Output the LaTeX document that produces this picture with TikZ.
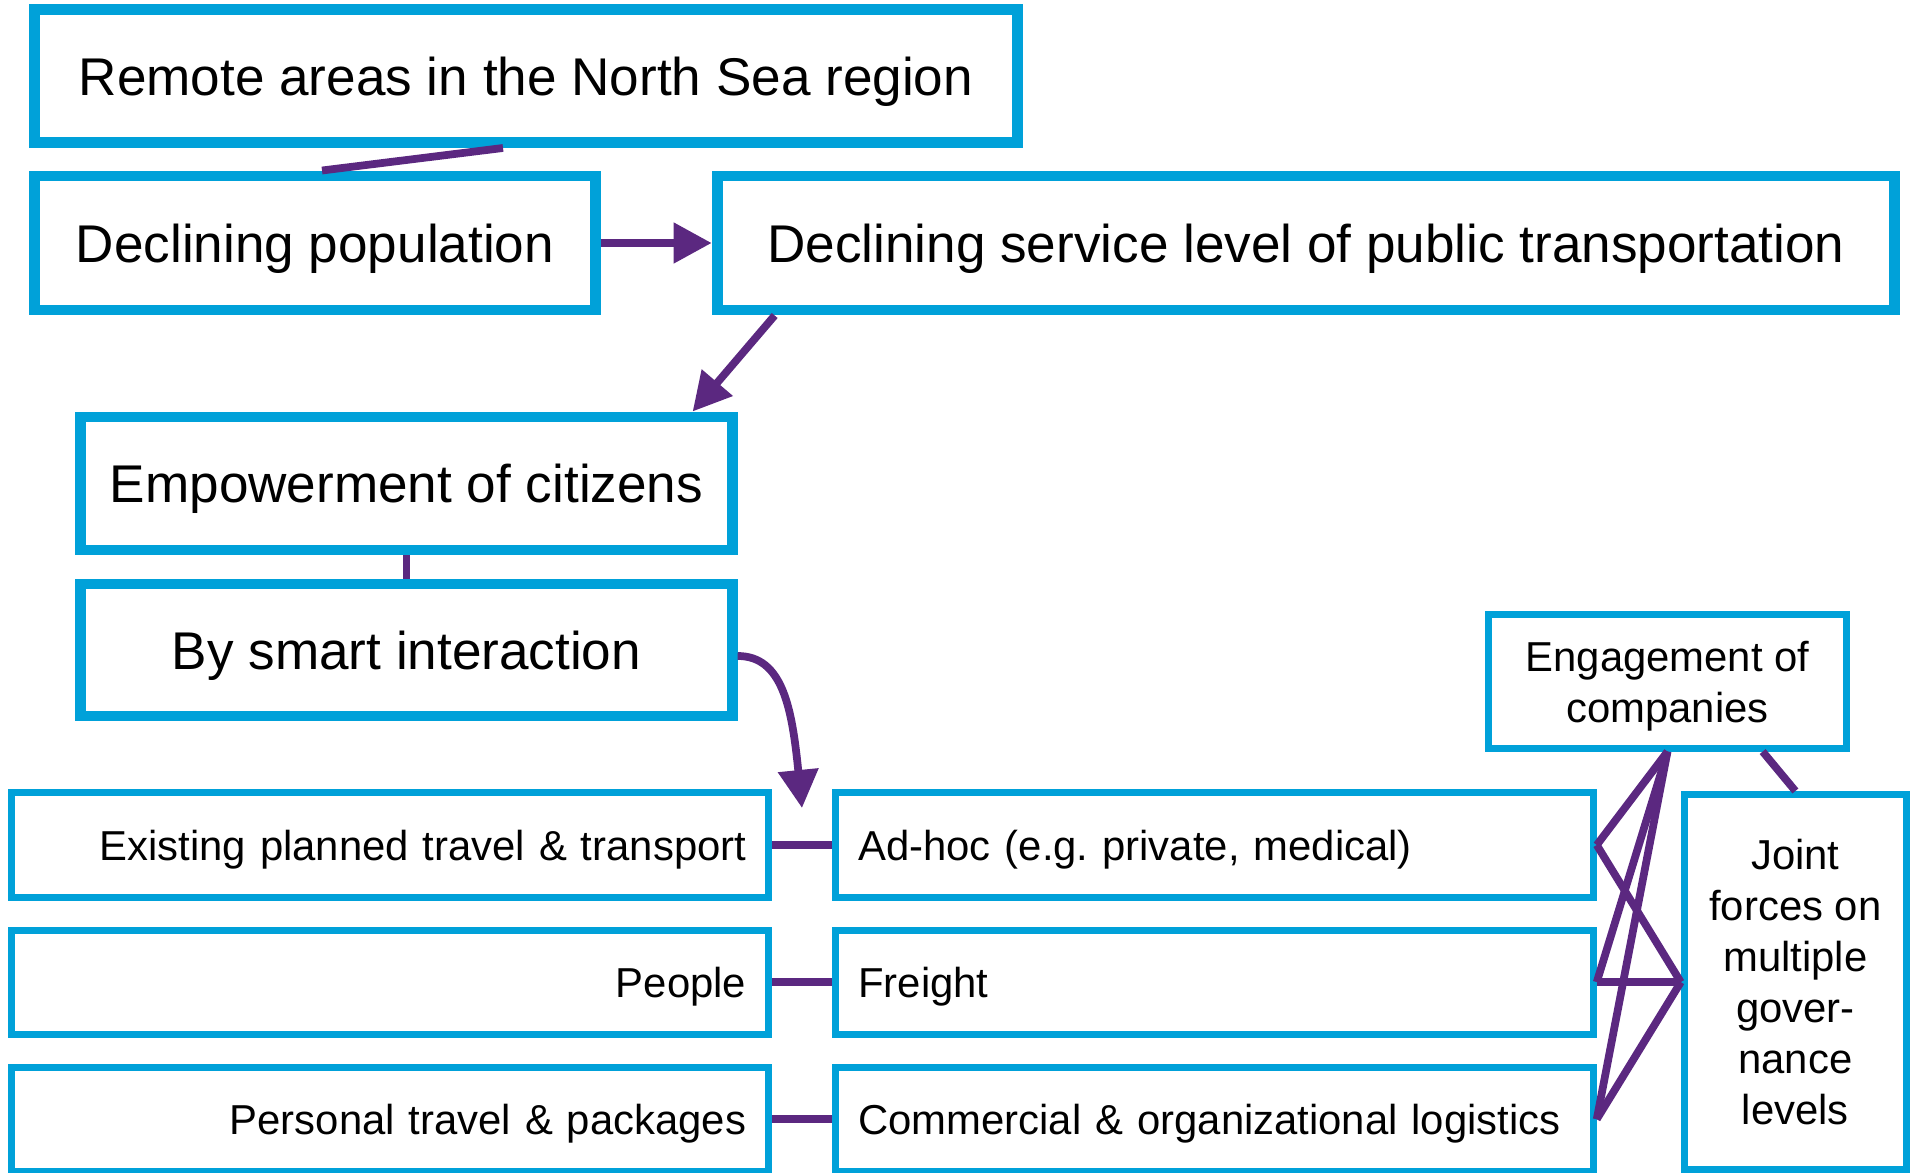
\documentclass[tikz,border=0pt]{standalone}
\usepackage{fontspec}
\setmainfont{Liberation Sans}
\usepackage{tikz}
\usetikzlibrary{arrows.meta, positioning, calc}
\definecolor{boxblue}{RGB}{0,161,217}
\definecolor{linkpurple}{RGB}{91,40,128}
\newcommand{\bigfont}{\fontsize{15.1pt}{18pt}\selectfont}
\newcommand{\smallfont}{\fontsize{11.9pt}{14.51pt}\selectfont\frenchspacing}

\begin{document}
\begin{tikzpicture}[x=0.01cm,y=-0.01cm,>={Triangle[length=3.8mm,width=3.9mm]},
        big box/.style={rectangle,draw=boxblue,fill=white,line width=3.1pt,
          font=\bigfont,text height=0.38cm,text depth=0pt},
        small box/.style={rectangle,draw=boxblue,fill=white,line width=2pt,font=\smallfont},
        row box/.style={small box,minimum height=1.04cm,text width=7.12cm,
          inner xsep=0.225cm,text height=0.3cm,text depth=0pt},
        link/.style={draw=linkpurple,line width=2.2pt}]
    \useasboundingbox (0,0) rectangle (1915,1173);
    % upper chain
    \node[big box, minimum width=9.82cm, minimum height=1.33cm] (remote) at (526,76) {Remote areas in the North Sea region};
    \node[big box, minimum width=5.60cm, minimum height=1.34cm] (decline) at (315,243) {Declining population};
    \node[big box, minimum width=11.77cm, minimum height=1.34cm] (service) [right=1.11cm of decline] {Declining service level of public transportation};
    \node[big box, minimum width=6.51cm, minimum height=1.33cm] (empower) at (406.5,483.5) {Empowerment of citizens};
    \node[big box, minimum width=6.51cm, minimum height=1.32cm] (smart) [below=0.23cm of empower] {By smart interaction};
    % rows
    \node[row box, align=right] (existing) at (390,845) {Existing planned travel \& transport};
    \node[row box, align=right] (people) [below=0.26cm of existing] {People};
    \node[row box, align=right] (personal) [below=0.26cm of people] {Personal travel \& packages};
    \node[row box, align=left] (adhoc) [right=0.6cm of existing] {Ad-hoc (e.g. private, medical)};
    \node[row box, align=left] (freight) [right=0.6cm of people] {Freight};
    \node[row box, align=left] (commercial) [right=0.6cm of personal] {Commercial \& organizational logistics};
    \node[small box, align=center, minimum width=3.57cm, minimum height=1.33cm, text depth=0pt] (engage) at (1667.5,681.5) {Engagement of\\companies};
    \node[small box, align=center, minimum width=2.22cm, minimum height=3.75cm] (joint) [right=0.84cm of freight] {Joint\\forces on\\multiple\\gover-\\nance\\levels};
    \coordinate (tip) at (802,808);

    \path[link] ($(remote.south)+(-23,0)$) -- ($(decline.north)+(7,0)$);
    \path[link,->] (decline) -- (service);
    \path[link,->] ($(service.south west)+(63,0)$) -- ($(empower.north east)+(-45,0)$);
    \path[link] (empower) -- (smart);
    \path[link,->] ($(smart.east)+(0,6)$) .. controls +(45,0) and +(-10,-100) .. (tip);
    \foreach \a/\b in {existing/adhoc, people/freight, personal/commercial}
      \path[link] (\a) -- (\b);
    \foreach \b in {adhoc, freight, commercial} {
      \path[link] (engage.south) -- (\b.east);
      \path[link] (joint.west) -- (\b.east);
    }
    \path[link] (joint.north) -- ($(engage.south east)+(-87,0)$);
\end{tikzpicture}
\end{document}
